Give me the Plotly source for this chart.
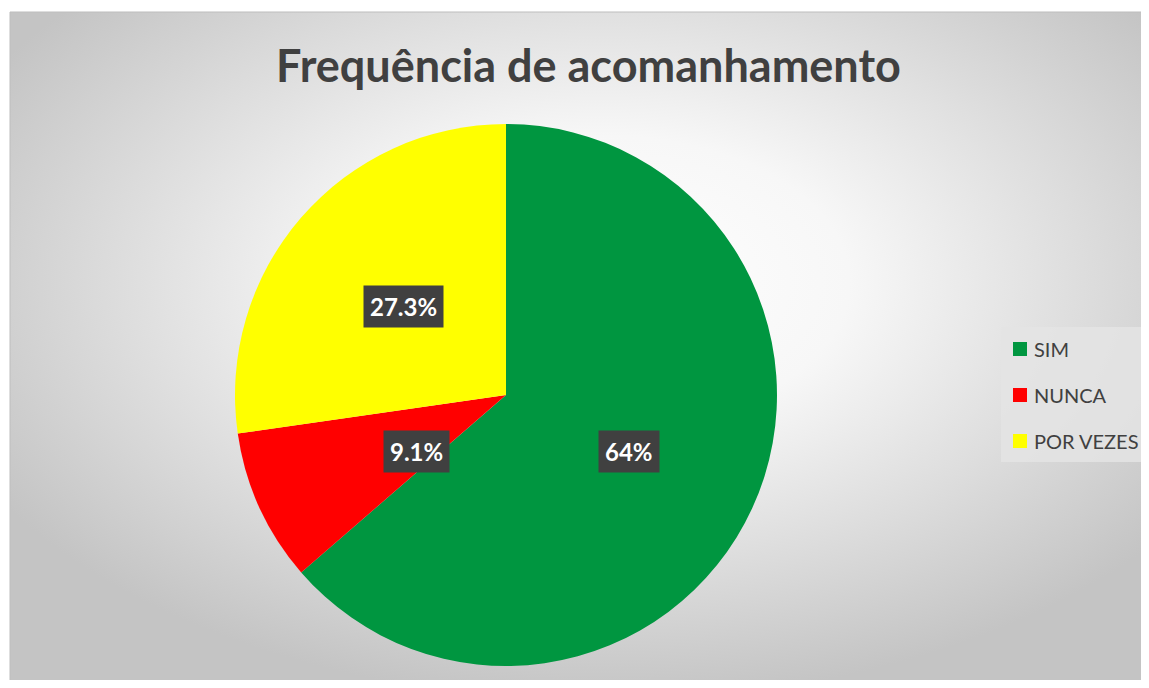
import math, base64
import plotly.graph_objects as go

categories = ["SIM", "NUNCA", "POR VEZES"]
values = [7, 1, 3]
value_labels = ["64%", "9.1%", "27.3%"]
colors = ["#009640", "#FF0000", "#FFFF00"]
title_text = "Frequência de acomanhamento"

OFF = 8  # page body margin
W, H = 1149 - 2 * OFF, 688 - 2 * OFF
CX, CY, R = 506, 395, 271  # pie centre / radius in reference px (layout)

def px(x):
    return (x - OFF) / W

def py(y):
    return 1 - (y - OFF) / H

fig = go.Figure(go.Pie(
    labels=categories, values=values, sort=False, direction="clockwise",
    rotation=0, marker=dict(colors=colors, line=dict(width=0)),
    textinfo="none", hoverinfo="label+percent", showlegend=False,
    domain=dict(x=[px(CX - R), px(CX + R)], y=[py(CY + R), py(CY - R)]),
))

svg = ('<svg xmlns="http://www.w3.org/2000/svg" width="1139" height="676" viewBox="0 0 1139 676">'
       '<defs><radialGradient id="g" cx="52%" cy="40%" r="62%">'
       '<stop offset="0%" stop-color="#ffffff"/><stop offset="35%" stop-color="#f7f7f7"/>'
       '<stop offset="100%" stop-color="#c4c4c4"/></radialGradient></defs>'
       '<rect width="1139" height="676" fill="url(#g)"/></svg>')
src = "data:image/svg+xml;base64," + base64.b64encode(svg.encode()).decode()

shapes = [dict(type="rect", xref="paper", yref="paper", x0=px(10), x1=px(1160),
               y0=py(700), y1=py(12), line=dict(color="#bdbdbd", width=1),
               fillcolor="rgba(0,0,0,0)", layer="above")]
annotations = [dict(text=f"<b>{title_text}</b>", x=px(588), y=py(65), xref="paper", yref="paper",
                    showarrow=False, font=dict(family="Lato", size=45, color="#404040"),
                    xanchor="center", yanchor="middle")]

total = sum(values)
cum = 0
for v, lab in zip(values, value_labels):
    mid = cum + v / 2
    cum += v
    ang = math.radians(90 - 360 * mid / total)
    lx = CX + 0.5 * R * math.cos(ang)
    ly = CY - 0.5 * R * math.sin(ang)
    annotations.append(dict(text=f"<b>{lab}</b>", x=px(lx), y=py(ly), xref="paper", yref="paper",
                            showarrow=False, font=dict(family="Lato", size=24, color="#ffffff"),
                            bgcolor="#404040", borderpad=6))

# legend box
shapes.append(dict(type="rect", xref="paper", yref="paper", x0=px(1001), x1=px(1160),
                   y0=py(462), y1=py(327), line=dict(width=0), fillcolor="rgba(228,228,228,0.85)"))
for i, (c, col) in enumerate(zip(categories, colors)):
    yc = 349 + i * 46
    shapes.append(dict(type="rect", xref="paper", yref="paper", x0=px(1013), x1=px(1027),
                       y0=py(yc + 7), y1=py(yc - 7), line=dict(width=0), fillcolor=col))
    annotations.append(dict(text=c, x=px(1032), y=py(yc), xref="paper", yref="paper",
                            showarrow=False, xanchor="left", yanchor="middle",
                            font=dict(family="Lato", size=20, color="#404040")))

fig.update_layout(
    width=W, height=H, margin=dict(l=0, r=0, t=0, b=0),
    paper_bgcolor="#ffffff", plot_bgcolor="#ffffff",
    images=[dict(source=src, xref="paper", yref="paper", x=px(10), y=py(12),
                 sizex=1139 / W, sizey=676 / H, xanchor="left", yanchor="top",
                 sizing="stretch", layer="below")],
    shapes=shapes, annotations=annotations,
)
fig.write_html("out.html")
